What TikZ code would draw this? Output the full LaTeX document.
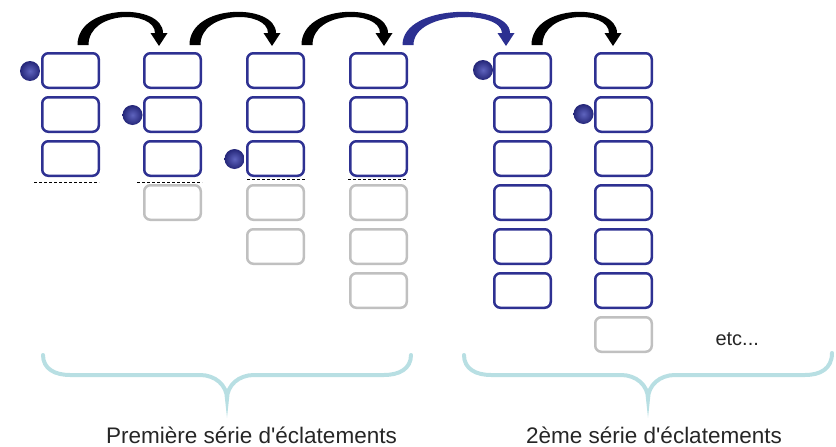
\documentclass[tikz,border=0pt]{standalone}
\usepackage{fontspec}
\setmainfont{Liberation Sans}[Ligatures=TeXOff]
\usetikzlibrary{calc}
\definecolor{navy}{RGB}{46,49,146}
\definecolor{dotlight}{RGB}{95,100,190}
\definecolor{dotdark}{RGB}{36,38,120}
\definecolor{boxgrey}{RGB}{192,192,192}
\definecolor{bracecol}{RGB}{184,223,227}
\definecolor{arrowblue}{RGB}{44,48,145}
\newcommand\curvedarrow[3]{%
  \fill[#3] ({#1-5.5},45) .. controls ({#1-5.5},3) and ({#2+4},3) .. ({#2+4},33)
    -- ({#2+8.5},33) -- (#2,46) -- ({#2-8.5},33) -- ({#2-4},33)
    .. controls ({#2-4},10) and ({#1+5.5},10) .. ({#1+5.5},45) -- cycle;}
\begin{document}
\begin{tikzpicture}[x=1pt,y=-1pt,
  bluebox/.style={draw=navy, line width=2.5pt, rounded corners=6pt,
    minimum width=56.5pt, minimum height=34.5pt, inner sep=0pt},
  greybox/.style={bluebox, draw=boxgrey},
  dot/.style={circle, minimum size=20pt, inner sep=0pt, shading=radial,
    inner color=dotlight, outer color=dotdark},
  dashline/.style={draw=black, line width=0.8pt, dash pattern=on 3pt off 2pt},
  bracepath/.style={draw=bracecol, line width=4pt, line cap=round},
  label/.style={font=\fontsize{22.5}{26}\selectfont, text=black!85, anchor=base}]
\useasboundingbox (0,0) rectangle (836,447);

% boxes
\foreach \c/\x/\nb/\nt in {1/70.5/3/3, 2/172.5/3/4, 3/275.5/3/5, 4/378.5/3/6, 5/522.5/6/6, 6/623.5/6/7}{
  \foreach \r in {1,...,\nt}{
    \pgfmathsetmacro\yy{70.5+44*(\r-1)}
    \ifnum\r>\nb
      \node[greybox] (c\c r\r) at (\x,\yy) {};
    \else
      \node[bluebox] (c\c r\r) at (\x,\yy) {};
    \fi
  }
}

% dots
\node[dot] (d1) at (30,71) {};
\node[dot] (d2) at (132.5,115) {};
\node[dot] (d3) at (234.5,159) {};
\node[dot] (d5) at (483,70) {};
\node[dot] (d6) at (583.5,114) {};

% dashed separators
\coordinate (s1a) at (34,182);  \coordinate (s1b) at (99,182);
\coordinate (s2a) at (137,182); \coordinate (s2b) at (202,182);
\coordinate (s3a) at (247,179); \coordinate (s3b) at (305,179);
\coordinate (s4a) at (348,179); \coordinate (s4b) at (406,179);
\draw[dashline] (s1a) -- (s1b);
\draw[dashline] (s2a) -- (s2b);
\draw[dashline] (s3a) -- (s3b);
\draw[dashline] (s4a) -- (s4b);

% curved arrows
\curvedarrow{83}{159}{black}
\curvedarrow{195}{272}{black}
\curvedarrow{307}{384}{black}
\curvedarrow{408}{506}{arrowblue}
\curvedarrow{537}{613}{black}

% braces
\draw[bracepath] (43,355) .. controls (43,369) and (55,375) .. (70,375) -- (200,375)
  .. controls (215,375) and (227,385) .. (227,399)
  .. controls (227,385) and (239,375) .. (254,375) -- (384,375)
  .. controls (399,375) and (411,369) .. (411,355);
\draw[bracepath] (464,355) .. controls (464,369) and (476,375) .. (491,375) -- (621,375)
  .. controls (636,375) and (648,385) .. (648,399)
  .. controls (648,385) and (660,375) .. (675,375) -- (805,375)
  .. controls (820,375) and (832,369) .. (832,353);

% texts
\node[label] (t1) at (251.5,443) {Première série d'éclatements};
\node[label] (t2) at (654,443) {2ème série d'éclatements};
\node[font=\fontsize{20}{24}\selectfont, text=black!85, anchor=base west] (etc) at (712,345) {etc...};
\end{tikzpicture}
\end{document}
